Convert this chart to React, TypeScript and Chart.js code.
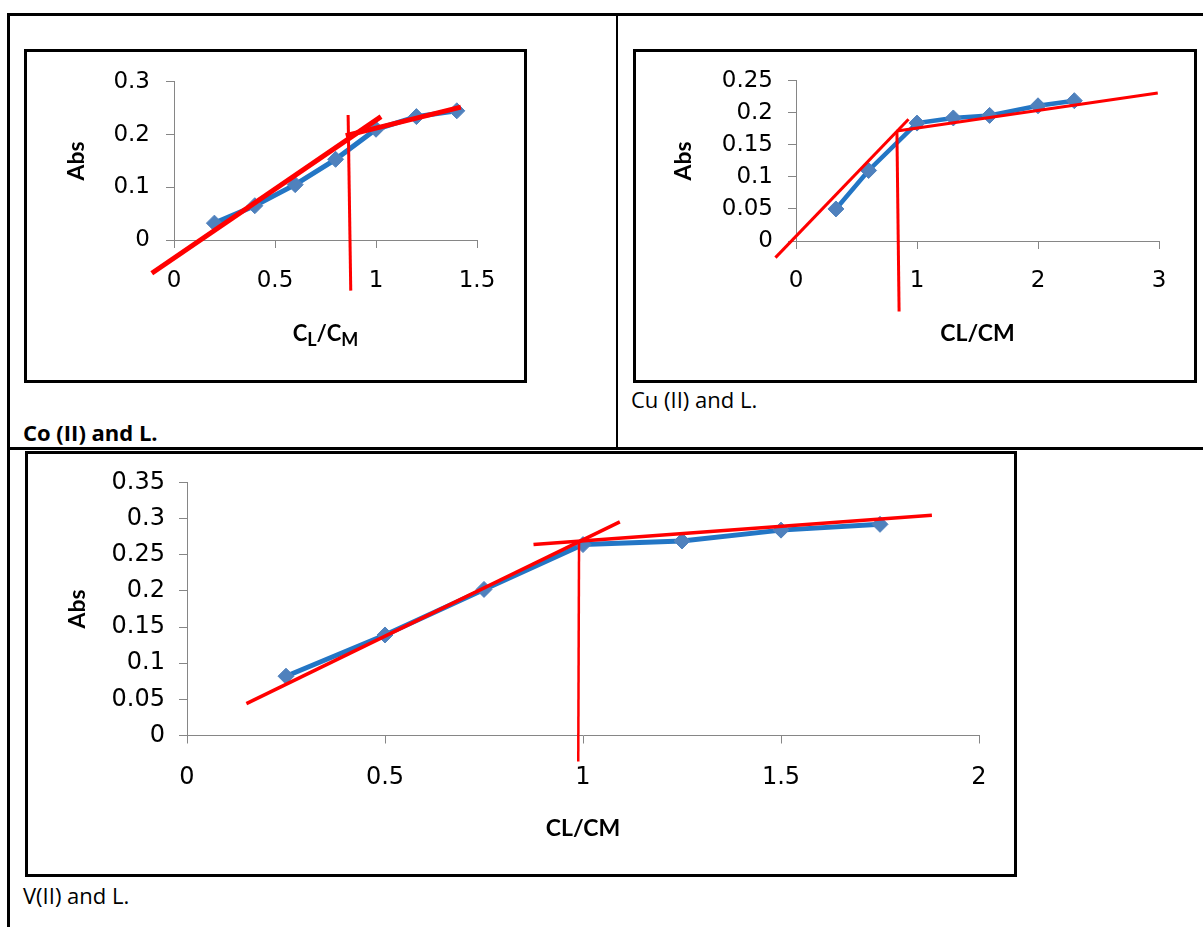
import React, { useEffect, useRef } from 'react';
import { Chart, registerables } from 'chart.js';

Chart.register(...registerables);

// ---------- Co (II) and L. ----------
const coRatio = [0.2, 0.4, 0.6, 0.8, 1.0, 1.2, 1.4];
const coAbs = [0.032, 0.065, 0.105, 0.153, 0.21, 0.234, 0.245];
const coFitLowX = [-0.11, 1.025];
const coFitLowY = [-0.063, 0.234];
const coFitHighX = [0.85, 1.42];
const coFitHighY = [0.198, 0.252];
const coBreakX = [0.862, 0.875];
const coBreakY = [0.237, -0.096];
const coXTicks = [0, 0.5, 1, 1.5];
const coYTicks = [0, 0.1, 0.2, 0.3];
const coXTitle = [
  { t: 'C', sub: false },
  { t: 'L', sub: true },
  { t: '/', sub: false },
  { t: 'C', sub: false },
  { t: 'M', sub: true },
];
const coCaption = 'Co (II) and L.';

// ---------- Cu (II) and L. ----------
const cuRatio = [0.33, 0.6, 1.0, 1.3, 1.6, 2.0, 2.3];
const cuAbs = [0.05, 0.11, 0.184, 0.192, 0.196, 0.211, 0.219];
const cuFitLowX = [-0.17, 0.93];
const cuFitLowY = [-0.026, 0.19];
const cuFitHighX = [0.834, 2.99];
const cuFitHighY = [0.1715, 0.231];
const cuBreakX = [0.834, 0.852];
const cuBreakY = [0.1715, -0.11];
const cuXTicks = [0, 1, 2, 3];
const cuYTicks = [0, 0.05, 0.1, 0.15, 0.2, 0.25];
const cuXTitle = 'CL/CM';
const cuCaption = 'Cu (II) and L.';

// ---------- V(II) and L. ----------
const vRatio = [0.25, 0.5, 0.75, 1.0, 1.25, 1.5, 1.75];
const vAbs = [0.082, 0.139, 0.202, 0.264, 0.269, 0.284, 0.292];
const vFitLowX = [0.15, 1.093];
const vFitLowY = [0.044, 0.2955];
const vFitHighX = [0.875, 1.881];
const vFitHighY = [0.264, 0.3045];
const vBreakX = [0.99, 0.988];
const vBreakY = [0.267, -0.036];
const vXTicks = [0, 0.5, 1, 1.5, 2];
const vYTicks = [0, 0.05, 0.1, 0.15, 0.2, 0.25, 0.3, 0.35];
const vXTitle = 'CL/CM';
const vCaption = 'V(II) and L.';

const yTitle = 'Abs';

// ---------- styles ----------
const RED = '#ff0000';
const LINE_BLUE = '#2376c5';
const MARK_BLUE = '#4f81bd';
const AXIS_GRAY = '#868686';
const TICK_FONT = 'DejaVu Sans';
const TITLE_FONT = 'Lato';

function pts(xs: number[], ys: number[]) {
  return xs.map((x, i) => ({ x, y: ys[i] }));
}

function fitLine(xs: number[], ys: number[], width: number) {
  return {
    data: pts(xs, ys),
    showLine: true,
    borderColor: RED,
    backgroundColor: RED,
    borderWidth: width,
    pointRadius: 0,
    pointHoverRadius: 0,
    clip: false,
    order: 0,
    tension: 0,
    borderCapStyle: 'butt',
  };
}

function series(xs: number[], ys: number[], lineW: number, r: number) {
  return {
    data: pts(xs, ys),
    showLine: true,
    borderColor: LINE_BLUE,
    backgroundColor: MARK_BLUE,
    borderWidth: lineW,
    pointStyle: 'rectRot',
    pointRadius: r,
    pointHoverRadius: r,
    pointBackgroundColor: MARK_BLUE,
    pointBorderColor: MARK_BLUE,
    pointBorderWidth: 1,
    clip: false,
    order: 1,
    tension: 0,
  };
}

function axis(o: {
  ticks: number[];
  min: number;
  max: number;
  size: number;
  pad: number;
  fit: (s: any) => void;
  title?: string;
}) {
  return {
    type: 'linear',
    min: o.min,
    max: o.max,
    afterBuildTicks: (s: any) => {
      s.ticks = o.ticks.map((v) => ({ value: v }));
    },
    afterFit: o.fit,
    ticks: {
      callback: (v: any) => String(v),
      font: { family: TICK_FONT, size: o.size, lineHeight: 1.2 },
      color: '#000',
      padding: o.pad,
      autoSkip: false,
      maxRotation: 0,
      minRotation: 0,
    },
    grid: {
      display: true,
      drawOnChartArea: false,
      drawTicks: true,
      tickLength: 8,
      color: AXIS_GRAY,
      lineWidth: 1,
    },
    border: { display: true, color: AXIS_GRAY, width: 1 },
    title: o.title
      ? {
          display: true,
          text: o.title,
          font: { family: TITLE_FONT, weight: 'bold', size: 23, lineHeight: 1 },
          color: '#000',
          padding: 0,
        }
      : { display: false },
  };
}

function subTitlePlugin(parts: { t: string; sub: boolean }[], baseline: number, size: number, subSize: number, shift: number) {
  return {
    id: 'subTitle',
    afterDraw(chart: any) {
      const ctx = chart.ctx;
      const ca = chart.chartArea;
      ctx.save();
      const main = `bold ${size}px ${TITLE_FONT}`;
      const sub = `bold ${subSize}px ${TITLE_FONT}`;
      let total = 0;
      const widths = parts.map((p) => {
        ctx.font = p.sub ? sub : main;
        const w = ctx.measureText(p.t).width;
        total += w;
        return w;
      });
      let x = (ca.left + ca.right) / 2 - total / 2;
      ctx.fillStyle = '#000';
      ctx.textBaseline = 'alphabetic';
      ctx.textAlign = 'left';
      parts.forEach((p, i) => {
        ctx.font = p.sub ? sub : main;
        ctx.fillText(p.t, x, baseline + (p.sub ? shift : 0));
        x += widths[i];
      });
      ctx.restore();
    },
  };
}

function baseOptions(padding: any, scales: any) {
  return {
    responsive: false,
    animation: false,
    events: [],
    layout: { padding },
    plugins: { legend: { display: false }, tooltip: { enabled: false } },
    scales,
  };
}

function coConfig(): any {
  return {
    type: 'scatter',
    data: {
      datasets: [
        fitLine(coFitLowX, coFitLowY, 5),
        fitLine(coFitHighX, coFitHighY, 5),
        fitLine(coBreakX, coBreakY, 3),
        series(coRatio, coAbs, 5, 8),
      ],
    },
    options: baseOptions(
      { left: 38, right: 47, top: 26, bottom: 0 },
      {
        x: axis({ ticks: coXTicks, min: 0, max: 1.5, size: 23, pad: 19, fit: (s) => { s.height = 140; } }),
        y: axis({ ticks: coYTicks, min: 0, max: 0.3, size: 23, pad: 16, fit: (s) => { s.width = 109; }, title: yTitle }),
      }
    ),
    plugins: [subTitlePlugin(coXTitle, 289, 22, 18, 5)],
  };
}

function cuConfig(): any {
  return {
    type: 'scatter',
    data: {
      datasets: [
        fitLine(cuFitLowX, cuFitLowY, 3),
        fitLine(cuFitHighX, cuFitHighY, 3),
        fitLine(cuBreakX, cuBreakY, 3),
        series(cuRatio, cuAbs, 4.5, 8),
      ],
    },
    options: baseOptions(
      { left: 36, right: 35, top: 26, bottom: 35 },
      {
        x: axis({ ticks: cuXTicks, min: 0, max: 3, size: 23, pad: 18, fit: (s) => { s.height = 104; }, title: cuXTitle }),
        y: axis({ ticks: cuYTicks, min: 0, max: 0.25, size: 23, pad: 15, fit: (s) => { s.width = 124; }, title: yTitle }),
      }
    ),
  };
}

function vConfig(): any {
  return {
    type: 'scatter',
    data: {
      datasets: [
        fitLine(vFitLowX, vFitLowY, 3.5),
        fitLine(vFitHighX, vFitHighY, 3.5),
        fitLine(vBreakX, vBreakY, 2.5),
        series(vRatio, vAbs, 5, 8),
      ],
    },
    options: baseOptions(
      { left: 38, right: 35, top: 25, bottom: 34 },
      {
        x: axis({ ticks: vXTicks, min: 0, max: 2, size: 24, pad: 20, fit: (s) => { s.height = 104.5; }, title: vXTitle }),
        y: axis({ ticks: vYTicks, min: 0, max: 0.35, size: 24, pad: 14, fit: (s) => { s.width = 121; }, title: yTitle }),
      }
    ),
  };
}

function ChartBox(props: { left: number; top: number; w: number; h: number; make: () => any }) {
  const ref = useRef<HTMLCanvasElement>(null);
  useEffect(() => {
    const chart = new Chart(ref.current as HTMLCanvasElement, props.make());
    return () => chart.destroy();
  }, []);
  return (
    <div
      style={{
        position: 'absolute',
        left: props.left,
        top: props.top,
        width: props.w,
        height: props.h,
        border: '3px solid #000',
        boxSizing: 'border-box',
        background: '#fff',
      }}
    >
      <canvas ref={ref} width={props.w - 6} height={props.h - 6} style={{ display: 'block' }} />
    </div>
  );
}

function Caption(props: { left: number; top: number; text: string; bold?: boolean }) {
  return (
    <div
      style={{
        position: 'absolute',
        left: props.left,
        top: props.top,
        fontFamily: '"Open Sans", sans-serif',
        fontSize: 22,
        lineHeight: '22px',
        fontWeight: props.bold ? 700 : 400,
        color: '#000',
        whiteSpace: 'nowrap',
      }}
    >
      {props.text}
    </div>
  );
}

function Rule(props: { left: number; top: number; w: number; h: number }) {
  return (
    <div
      style={{
        position: 'absolute',
        left: props.left,
        top: props.top,
        width: props.w,
        height: props.h,
        background: '#000',
      }}
    />
  );
}

export default function App() {
  return (
    <div
      style={{
        position: 'absolute',
        left: 0,
        top: 0,
        width: 1203,
        height: 927,
        overflow: 'hidden',
        background: '#fff',
      }}
    >
      {/* table rules */}
      <Rule left={7} top={13} w={1196} h={3} />
      <Rule left={7} top={13} w={3} h={914} />
      <Rule left={616} top={13} w={2} h={436} />
      <Rule left={7} top={447} w={1196} h={3} />

      <ChartBox left={24} top={49} w={503} h={334} make={coConfig} />
      <ChartBox left={633} top={49} w={564} h={334} make={cuConfig} />
      <ChartBox left={25} top={451} w={992} h={426} make={vConfig} />

      <Caption left={23} top={421} text={coCaption} bold />
      <Caption left={631} top={388} text={cuCaption} />
      <Caption left={23} top={884} text={vCaption} />
    </div>
  );
}
